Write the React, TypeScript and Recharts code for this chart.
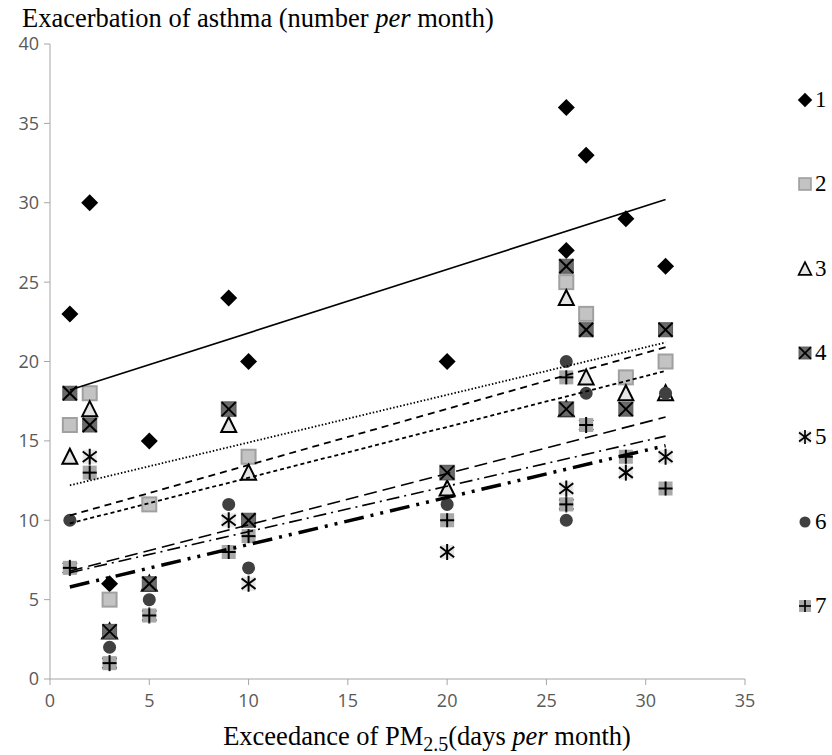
import React from "react";
import { ScatterChart, Scatter, XAxis, YAxis } from "recharts";

// exceedance days per month (x) for the 12 months
const months = [1, 2, 3, 5, 9, 10, 20, 26, 26, 27, 29, 31];

const s1 = [23, 30, 6, 15, 24, 20, 20, 36, 27, 33, 29, 26];
const s2 = [16, 18, 5, 11, 17, 14, 13, 25, 17, 23, 19, 20];
const s3 = [14, 17, 3, 6, 16, 13, 12, 24, 17, 19, 18, 18];
const s4 = [18, 16, 3, 6, 17, 10, 13, 26, 17, 22, 17, 22];
const s5 = [7, 14, 1, 4, 10, 6, 8, 12, 11, 16, 13, 14];
const s6 = [10, 13, 2, 5, 11, 7, 11, 20, 10, 18, 14, 18];
const s7 = [7, 13, 1, 4, 8, 9, 10, 19, 11, 16, 14, 12];

// trend line ends
const trendX = [1, 31];
const t1 = [18.2, 30.2];
const t2 = [12.2, 21.2];
const t3 = [10.3, 20.9];
const t4 = [9.8, 19.4];
const t5 = [6.8, 16.5];
const t6 = [6.7, 15.3];
const t7 = [5.8, 14.7];

const xTicks = [0, 5, 10, 15, 20, 25, 30, 35];
const yTicks = [0, 5, 10, 15, 20, 25, 30, 35, 40];
const legendNames = ["1", "2", "3", "4", "5", "6", "7"];

type Kind = "diamond" | "square" | "triangle" | "xsquare" | "asterisk" | "circle" | "plus";

const kinds: Kind[] = ["diamond", "square", "triangle", "xsquare", "asterisk", "circle", "plus"];

const Marker = ({ kind, cx, cy, s = 1 }: { kind: Kind; cx: number; cy: number; s?: number }) => {
  const h = 7 * s;
  const line = { stroke: "#000", strokeWidth: 2 * s };
  switch (kind) {
    case "diamond":
      return (
        <polygon
          points={`${cx},${cy - 8.5 * s} ${cx + 8.5 * s},${cy} ${cx},${cy + 8.5 * s} ${cx - 8.5 * s},${cy}`}
          fill="#000"
        />
      );
    case "square":
      return (
        <rect x={cx - h} y={cy - h} width={2 * h} height={2 * h} fill="#c3c3c3" stroke="#a0a0a0" strokeWidth={2 * s} />
      );
    case "triangle":
      return (
        <polygon
          points={`${cx},${cy - 8 * s} ${cx + 7.5 * s},${cy + 7 * s} ${cx - 7.5 * s},${cy + 7 * s}`}
          fill="#e4e4e4"
          stroke="#000"
          strokeWidth={2 * s}
          strokeLinejoin="miter"
        />
      );
    case "xsquare":
      return (
        <g>
          <rect x={cx - h} y={cy - h} width={2 * h} height={2 * h} fill="#6b6b6b" stroke="#5a5a5a" strokeWidth={1} />
          <line x1={cx - h} y1={cy - h} x2={cx + h} y2={cy + h} {...line} />
          <line x1={cx - h} y1={cy + h} x2={cx + h} y2={cy - h} {...line} />
        </g>
      );
    case "asterisk":
      return (
        <g>
          <rect x={cx - h} y={cy - h} width={2 * h} height={2 * h} fill="#e6e6e6" />
          <line x1={cx - h} y1={cy - h * 0.75} x2={cx + h} y2={cy + h * 0.75} {...line} />
          <line x1={cx - h} y1={cy + h * 0.75} x2={cx + h} y2={cy - h * 0.75} {...line} />
          <line x1={cx} y1={cy - h - 1} x2={cx} y2={cy + h + 1} {...line} />
        </g>
      );
    case "circle":
      return <circle cx={cx} cy={cy} r={6.5 * s} fill="#404040" />;
    case "plus":
      return (
        <g>
          <rect x={cx - h} y={cy - h} width={2 * h} height={2 * h} fill="#a8a8a8" />
          <line x1={cx - h} y1={cy} x2={cx + h} y2={cy} {...line} />
          <line x1={cx} y1={cy - h} x2={cx} y2={cy + h} {...line} />
        </g>
      );
  }
  return null;
};

const toPoints = (ys: number[]) => ys.map((y, i) => ({ x: months[i], y }));
const toTrend = (ys: number[]) => ys.map((y, i) => ({ x: trendX[i], y }));

const seriesData = [s1, s2, s3, s4, s5, s6, s7].map(toPoints);
const trends = [
  { data: toTrend(t1), dash: undefined, width: 1.6 },
  { data: toTrend(t2), dash: "1.5 2", width: 1.8 },
  { data: toTrend(t4), dash: "4 3", width: 1.8 },
  { data: toTrend(t3), dash: "7 5", width: 1.8 },
  { data: toTrend(t5), dash: "13 6", width: 1.6 },
  { data: toTrend(t6), dash: "13 5 2 5", width: 1.6 },
  { data: toTrend(t7), dash: "20 7 3 7 3 7", width: 3.5 },
];

const serif = "'Liberation Serif', 'Times New Roman', serif";
const tickStyle = { fill: "#595959", fontSize: 18, fontFamily: "'Open Sans', sans-serif" };

export default function App() {
  return (
    <div style={{ position: "absolute", left: 0, top: 0, width: 832, height: 755, background: "#fff" }}>
      <div style={{ position: "absolute", left: 22, top: 3, fontFamily: serif, fontSize: 26.5, color: "#000", whiteSpace: "nowrap" }}>
        Exacerbation of asthma (number <i>per</i> month)
      </div>
      <ScatterChart width={832} height={755} margin={{ top: 44, right: 87, bottom: 36, left: 0 }}>
        <XAxis
          type="number"
          dataKey="x"
          domain={[0, 35]}
          ticks={xTicks}
          height={40}
          tick={tickStyle}
          tickSize={6}
          tickMargin={9}
          stroke="#a6a6a6"
          allowDataOverflow
        />
        <YAxis
          type="number"
          dataKey="y"
          domain={[0, 40]}
          ticks={yTicks}
          width={50}
          tick={tickStyle}
          tickSize={6}
          tickMargin={5}
          stroke="#a6a6a6"
          allowDataOverflow
        />
        {seriesData.map((d, i) => (
          <Scatter
            key={`s${i}`}
            data={d}
            isAnimationActive={false}
            shape={(p: any) => <Marker kind={kinds[i]} cx={p.cx} cy={p.cy} />}
          />
        ))}
        {trends.map((t, i) => (
          <Scatter
            key={`t${i}`}
            data={t.data}
            isAnimationActive={false}
            line={{ stroke: "#000", strokeWidth: t.width, strokeDasharray: t.dash }}
            shape={() => <g />}
          />
        ))}
      </ScatterChart>
      <div
        style={{
          position: "absolute",
          left: 0,
          width: 832,
          top: 721,
          textAlign: "center",
          paddingLeft: 22,
          boxSizing: "border-box",
          fontFamily: serif,
          fontSize: 26.5,
          color: "#000",
          whiteSpace: "nowrap",
        }}
      >
        Exceedance of PM<sub style={{ fontSize: 20 }}>2.5</sub>(days <i>per</i> month)
      </div>
      {legendNames.map((name, i) => (
        <div
          key={name}
          style={{ position: "absolute", left: 795, top: 100 + i * 84.3 - 14, height: 28, display: "flex", alignItems: "center" }}
        >
          <svg width={20} height={20}>
            <Marker kind={kinds[i]} cx={10} cy={10} s={0.85} />
          </svg>
          <span style={{ fontFamily: serif, fontSize: 23, color: "#000", marginLeft: 0 }}>{name}</span>
        </div>
      ))}
    </div>
  );
}
